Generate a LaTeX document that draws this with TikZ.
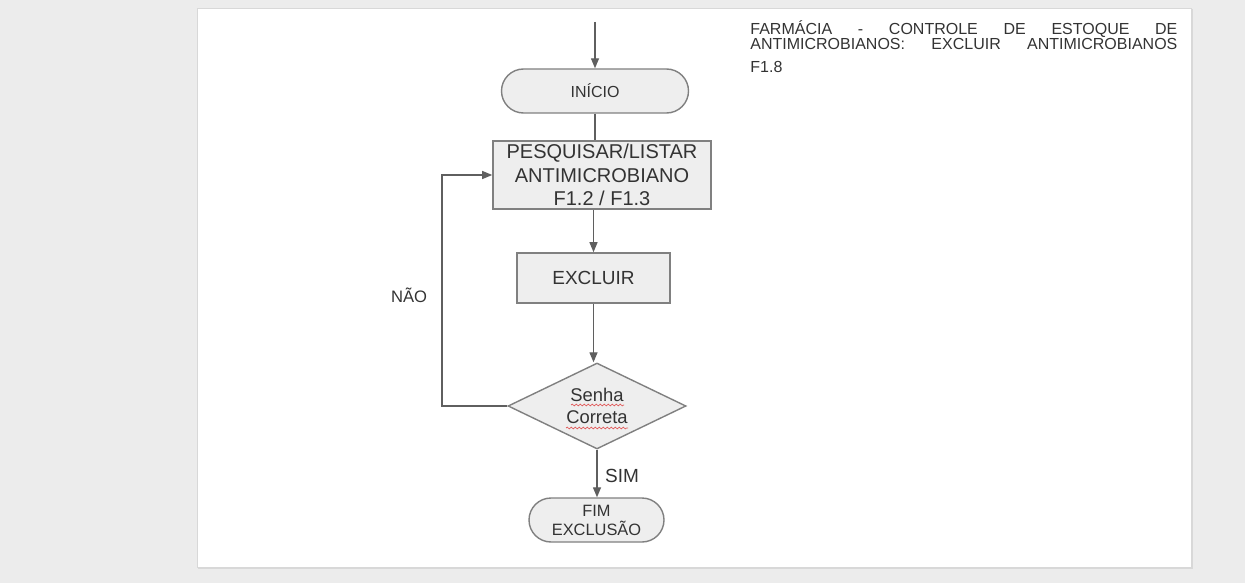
\documentclass[tikz,border=0pt]{standalone}
\usepackage{fontspec}
\setmainfont{Liberation Sans}
\usepackage{tikz}
\usetikzlibrary{shapes.geometric, arrows.meta, positioning, calc, decorations.pathmorphing}
\definecolor{cLine}{RGB}{95,95,95}
\definecolor{cFill}{RGB}{238,238,238}
\definecolor{cEdge}{RGB}{128,128,128}
\definecolor{cText}{RGB}{51,51,51}
\definecolor{cBack}{RGB}{236,236,236}
\definecolor{cPage}{RGB}{216,216,216}
\definecolor{cSpell}{RGB}{225,90,90}
\tikzset{
	startstop/.style={rectangle, rounded corners=11pt, minimum width=93.5pt, minimum height=22pt, text centered, align=center, draw=cEdge, line width=0.7pt, fill=cFill, inner sep=1pt},
	process/.style  ={rectangle, text centered, align=center, draw=cEdge, line width=0.8pt, fill=cFill, inner sep=1pt},
	decision/.style ={diamond, aspect=2.07, minimum width=89pt, minimum height=43pt, text centered, align=center, draw=cEdge, line width=0.7pt, fill=cFill, inner sep=0pt},
	flowarrow/.style={-{Triangle[length=5pt, width=4pt]}, draw=cLine, line width=0.65pt},
	flowline/.style ={draw=cLine, line width=0.65pt},
	lbl/.style      ={text=cText},
	spell/.style    ={draw=cSpell, line width=0.35pt, decorate, decoration={snake, segment length=2pt, amplitude=0.45pt}},
}

\begin{document}
\begin{tikzpicture}[x=0.5pt, y=-0.5pt, font=\fontsize{8.5}{10}\selectfont, text=cText]
	% screen and page
	\fill[white] (0,0) rectangle (1253,583);
	\fill[cBack] (0,0) rectangle (1245,583);
	\fill[cPage] (198,9) rectangle (1193,569);
	\filldraw[fill=white, draw=cPage] (197,8) rectangle (1191,567);
	\useasboundingbox (0,0) rectangle (1253,583);

	\node[startstop, font=\fontsize{8}{9.5}\selectfont] (start) at (595,91) {INÍCIO};
	\node[process, minimum width=109pt, minimum height=34pt, font=\fontsize{10}{11.7}\selectfont] (search) at (602,175) {PESQUISAR/LISTAR\\ANTIMICROBIANO\\F1.2 / F1.3};
	\node[process, minimum width=76.5pt, minimum height=25pt, font=\fontsize{9.5}{11}\selectfont] (excl) at (593.5,278) {EXCLUIR};
	\node[decision, font=\fontsize{9.2}{11}\selectfont] (pass) at (597,406) {Senha\\Correta};
	\node[startstop, minimum width=67.5pt, font=\fontsize{8.2}{9.5}\selectfont] (end) at (596.5,520) {FIM\\EXCLUSÃO};

	\coordinate (top) at (595,22);
	\coordinate (loop) at (442,407);

	\draw[flowarrow] (top) -- (start.north);
	\draw[flowline] (start.south) -- (start.south |- search.north);
	\draw[flowarrow] (search.south -| excl.north) -- (excl.north);
	\draw[flowarrow] (excl.south) -- (excl.south |- pass.north);
	\draw[flowarrow] (pass.south) -- (pass.south |- end.north);
	\draw[flowarrow] (pass.west) -- (pass.west -| loop) |- (search.west);

	% spell-check marks
	\draw[spell] ($(pass.center)+(-26,-1)$) -- ++(53,0);
	\draw[spell] ($(pass.center)+(-31,22)$) -- ++(62,0);

	\node[lbl, font=\fontsize{8.3}{10}\selectfont] (no) at (409,295) {NÃO};
	\node[lbl, font=\fontsize{9.5}{11}\selectfont] (yes) at (622,476) {SIM};

	\node[anchor=north west, text width=213.5pt, align=justify, inner sep=0pt, font=\fontsize{8}{7.7}\selectfont] (title) at (750,20) {FARMÁCIA - CONTROLE DE ESTOQUE DE\linebreak ANTIMICROBIANOS: EXCLUIR ANTIMICROBIANOS\vspace{3.8pt}\linebreak F1.8};
\end{tikzpicture}
\end{document}
